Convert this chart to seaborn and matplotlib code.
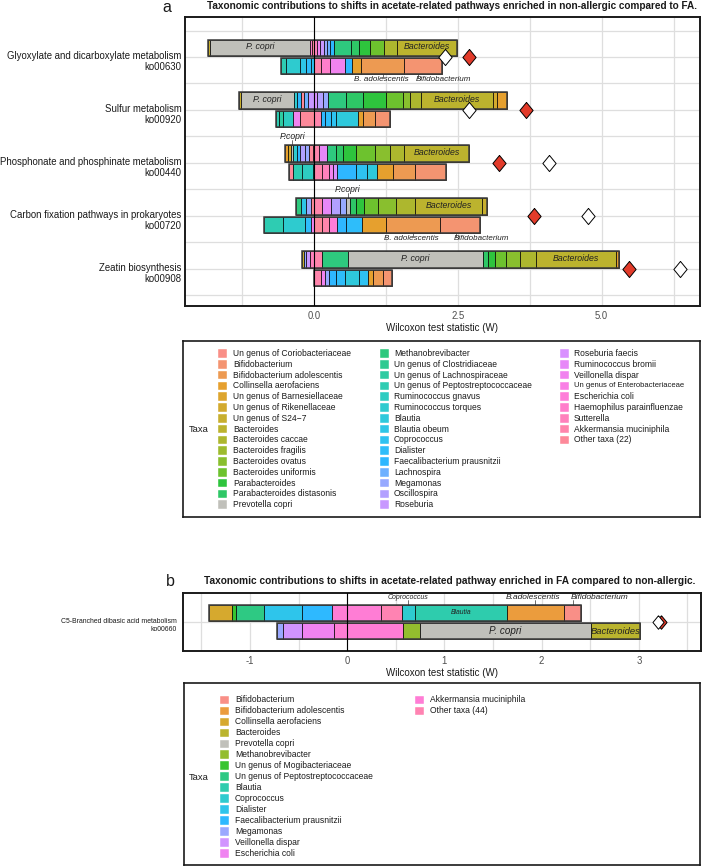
import numpy as np
import matplotlib
matplotlib.use("Agg")
import matplotlib.pyplot as plt
from matplotlib import font_manager
from matplotlib.patches import Rectangle
import seaborn as sns

# ---------------- taxa / legends ----------------
taxon_label = {
    "Corio": "Un genus of Coriobacteriaceae", "Bifido": "Bifidobacterium",
    "Badol": "Bifidobacterium adolescentis", "Colli": "Collinsella aerofaciens",
    "Barne": "Un genus of Barnesiellaceae", "Riken": "Un genus of Rikenellaceae",
    "S247": "Un genus of S24\u22127", "Bact": "Bacteroides", "Bcacc": "Bacteroides caccae",
    "Bfrag": "Bacteroides fragilis", "Bovat": "Bacteroides ovatus", "Bunif": "Bacteroides uniformis",
    "Parab": "Parabacteroides", "Pdist": "Parabacteroides distasonis", "Pcopri": "Prevotella copri",
    "Metha": "Methanobrevibacter", "Clost": "Un genus of Clostridiaceae",
    "Lachn": "Un genus of Lachnospiraceae", "Pepto": "Un genus of Peptostreptococcaceae",
    "Rgnav": "Ruminococcus gnavus", "Rtorq": "Ruminococcus torques", "Blaut": "Blautia",
    "Bobeum": "Blautia obeum", "Copro": "Coprococcus", "Dial": "Dialister",
    "Faec": "Faecalibacterium prausnitzii", "Lachsp": "Lachnospira", "Mega": "Megamonas",
    "Osci": "Oscillospira", "Rose": "Roseburia", "Rfaec": "Roseburia faecis",
    "Rbrom": "Ruminococcus bromii", "Veil": "Veillonella dispar",
    "Entero": "Un genus of Enterobacteriaceae", "Ecoli": "Escherichia coli",
    "Haem": "Haemophilus parainfluenzae", "Sutt": "Sutterella",
    "Akk": "Akkermansia muciniphila", "Other22": "Other taxa (22)",
    "Mogi": "Un genus of Mogibacteriaceae", "Other44": "Other taxa (44)",
}

legend_a = ["Corio", "Bifido", "Badol", "Colli", "Barne", "Riken", "S247", "Bact", "Bcacc",
            "Bfrag", "Bovat", "Bunif", "Parab", "Pdist", "Pcopri",
            "Metha", "Clost", "Lachn", "Pepto", "Rgnav", "Rtorq", "Blaut", "Bobeum", "Copro",
            "Dial", "Faec", "Lachsp", "Mega", "Osci", "Rose",
            "Rfaec", "Rbrom", "Veil", "Entero", "Ecoli", "Haem", "Sutt", "Akk", "Other22"]

legend_b = ["Bifido", "Badol", "Colli", "Bact", "Pcopri", "Metha", "Mogi", "Pepto", "Blaut",
            "Copro", "Dial", "Faec", "Mega", "Veil", "Ecoli", "Akk", "Other44"]

# ---------------- panel a data ----------------
pathways_a = ["Glyoxylate and dicarboxylate metabolism\nko00630",
              "Sulfur metabolism\nko00920",
              "Phosphonate and phosphinate metabolism\nko00440",
              "Carbon fixation pathways in prokaryotes\nko00720",
              "Zeatin biosynthesis\nko00908"]
w_white_a = [2.27, 2.70, 4.08, 4.77, 6.36]
w_red_a = [2.70, 3.69, 3.21, 3.83, 5.48]

# each bar: leftmost value, then taxa and their widths from left to right
ko00630_top_start = -1.84
ko00630_top_taxa = ["S247", "Pcopri", "Haem", "Other22", "Sutt", "Veil", "Rose", "Mega", "Lachsp",
                    "Faec", "Metha", "Pdist", "Parab", "Bunif", "Bcacc", "Bact"]
ko00630_top_w = [0.04, 1.74, 0.03, 0.04, 0.05, 0.05, 0.06, 0.06, 0.05, 0.07, 0.30, 0.13, 0.20,
                 0.24, 0.22, 1.04]
ko00630_bot_start = -0.57
ko00630_bot_taxa = ["Pepto", "Rtorq", "Bobeum", "Dial", "Copro", "Akk", "Haem", "Veil", "Faec",
                    "Colli", "Badol", "Bifido"]
ko00630_bot_w = [0.08, 0.24, 0.12, 0.08, 0.05, 0.12, 0.16, 0.26, 0.12, 0.16, 0.75, 0.65]

ko00920_top_start = -1.31
ko00920_top_taxa = ["S247", "Pcopri", "Rtorq", "Faec", "Other22", "Lachsp", "Rose", "Rfaec", "Osci",
                    "Mega", "Metha", "Pdist", "Parab", "Bunif", "Bovat", "Bcacc", "Bact", "Riken",
                    "Colli"]
ko00920_top_w = [0.05, 0.91, 0.06, 0.06, 0.06, 0.07, 0.10, 0.06, 0.10, 0.09, 0.30, 0.31, 0.39,
                 0.29, 0.13, 0.20, 1.24, 0.08, 0.16]
ko00920_bot_start = -0.65
ko00920_bot_taxa = ["Pepto", "Lachn", "Rgnav", "Veil", "Other22", "Akk", "Faec", "Dial", "Copro",
                    "Blaut", "Colli", "Badol", "Bifido"]
ko00920_bot_w = [0.04, 0.08, 0.16, 0.12, 0.25, 0.12, 0.08, 0.10, 0.08, 0.39, 0.08, 0.21, 0.26]

ko00440_top_start = -0.50
ko00440_top_taxa = ["Colli", "Riken", "Pcopri", "Rtorq", "Faec", "Osci", "Mega", "Other22", "Akk",
                    "Rbrom", "Metha", "Pdist", "Parab", "Bunif", "Bovat", "Bcacc", "Bact"]
ko00440_top_w = [0.05, 0.06, 0.03, 0.06, 0.06, 0.08, 0.08, 0.07, 0.10, 0.13, 0.16, 0.12, 0.24,
                 0.33, 0.26, 0.24, 1.13]
ko00440_bot_start = -0.43
ko00440_bot_taxa = ["Other22", "Pepto", "Rgnav", "Blaut", "Akk", "Sutt", "Veil", "Rfaec", "Faec",
                    "Copro", "Blaut", "Colli", "Badol", "Bifido"]
ko00440_bot_w = [0.06, 0.16, 0.19, 0.02, 0.14, 0.12, 0.08, 0.06, 0.33, 0.20, 0.16, 0.28, 0.39, 0.54]

ko00720_top_start = -0.31
ko00720_top_taxa = ["Metha", "Bobeum", "Mega", "Other22", "Akk", "Rbrom", "Osci", "Mega", "Pcopri",
                    "Pdist", "Parab", "Bunif", "Bovat", "Bcacc", "Bact", "S247"]
ko00720_top_w = [0.09, 0.09, 0.08, 0.05, 0.14, 0.16, 0.16, 0.10, 0.06, 0.11, 0.14, 0.25, 0.31,
                 0.33, 1.17, 0.08]
ko00720_bot_start = -0.86
ko00720_bot_taxa = ["Pepto", "Rtorq", "Dial", "Veil", "Other22", "Akk", "Ecoli", "Faec", "Dial",
                    "Colli", "Badol", "Bifido"]
ko00720_bot_w = [0.33, 0.38, 0.10, 0.05, 0.14, 0.13, 0.14, 0.14, 0.28, 0.43, 0.94, 0.69]

ko00908_top_start = -0.21
ko00908_top_taxa = ["S247", "Mega", "Rose", "Sutt", "Akk", "Metha", "Pcopri", "Pdist", "Parab",
                    "Bunif", "Bovat", "Bcacc", "Bact", "Colli"]
ko00908_top_w = [0.03, 0.04, 0.07, 0.07, 0.14, 0.45, 2.35, 0.08, 0.12, 0.20, 0.24, 0.28, 1.39, 0.06]
ko00908_bot_start = 0.0
ko00908_bot_taxa = ["Akk", "Veil", "Mega", "Faec", "Dial", "Blaut", "Copro", "Colli", "Badol", "Bifido"]
ko00908_bot_w = [0.12, 0.08, 0.06, 0.12, 0.16, 0.24, 0.16, 0.08, 0.18, 0.16]

# ---------------- panel b data ----------------
pathways_b = ["C5-Branched dibasic acid metabolism\nko00660"]
w_white_b = [3.20]
w_red_b = [3.23]
ko00660_top_start = -1.42
ko00660_top_taxa = ["Colli", "Mogi", "Pepto", "Dial", "Faec", "Akk", "Other44", "Copro", "Blaut",
                    "Badol", "Bifido"]
ko00660_top_w = [0.23, 0.05, 0.28, 0.39, 0.31, 0.51, 0.21, 0.14, 0.94, 0.59, 0.18]
ko00660_bot_start = -0.72
ko00660_bot_taxa = ["Mega", "Veil", "Ecoli", "Akk", "Metha", "Pcopri", "Bact"]
ko00660_bot_w = [0.06, 0.19, 0.33, 0.71, 0.18, 1.76, 0.50]


def hue_pal(n, c=100.0, l=65.0, fade=0.82):
    # ggplot2 default hue palette (polar CIELUV -> sRGB), slightly washed toward white
    Xn, Yn, Zn = 95.047, 100.0, 108.883
    un = 4 * Xn / (Xn + 15 * Yn + 3 * Zn)
    vn = 9 * Yn / (Xn + 15 * Yn + 3 * Zn)
    M = np.array([[3.2404542, -1.5371385, -0.4985314],
                  [-0.9692660, 1.8760108, 0.0415560],
                  [0.0556434, -0.2040259, 1.0572252]])
    out = []
    for h in np.linspace(15, 375, n + 1)[:n]:
        u, v = c * np.cos(np.radians(h)), c * np.sin(np.radians(h))
        Y = Yn * ((l + 16) / 116) ** 3
        up, vp = u / (13 * l) + un, v / (13 * l) + vn
        X = Y * 9 * up / (4 * vp)
        Z = Y * (12 - 3 * up - 20 * vp) / (4 * vp)
        rgb = M @ (np.array([X, Y, Z]) / 100)
        rgb = np.clip(rgb, 0, None)
        rgb = np.where(rgb <= 0.0031308, 12.92 * rgb, 1.055 * rgb ** (1 / 2.4) - 0.055)
        rgb = np.clip(rgb, 0, 1) * fade + (1 - fade)
        out.append(tuple(rgb))
    return out


def make_palette(order):
    colored = [t for t in order if t != "Pcopri"]
    pal = dict(zip(colored, hue_pal(len(colored))))
    pal["Pcopri"] = "#c0c0ba"
    return pal


pal_a = make_palette(legend_a)
pal_b = make_palette(legend_b)

# ---------------- style ----------------
sns.set_theme(style="whitegrid")
fams = {f.name for f in font_manager.fontManager.ttflist}
FONT = "Liberation Sans Narrow" if "Liberation Sans Narrow" in fams else "Liberation Sans"
SHRINK = 1.0 if FONT.endswith("Narrow") else 0.84
plt.rcParams["font.family"] = [FONT, "DejaVu Sans"]
plt.rcParams["text.color"] = "#1a1a1a"


def fs(x):
    return x * SHRINK


W, H = 707, 866
fig = plt.figure(figsize=(W / 100, H / 100), dpi=100)
fig.patch.set_facecolor("white")


def add_px_axes(left, top, right, bottom):
    return fig.add_axes([left / W, 1 - bottom / H, (right - left) / W, (bottom - top) / H])


BAR_H = 0.31
OFF = 0.175
DIAMOND = [(0, 1), (0.82, 0), (0, -1), (-0.82, 0), (0, 1)]


def stack(ax, y, start, taxa, widths, pal):
    widths = np.asarray(widths, float)
    lefts = start + np.concatenate([[0.0], np.cumsum(widths)[:-1]])
    ax.barh(np.full(len(widths), y), widths, left=lefts, height=BAR_H,
            color=[pal[t] for t in taxa], edgecolor="black", linewidth=0.5, zorder=2)
    ax.barh([y], [widths.sum()], left=[start], height=BAR_H, fill=False,
            edgecolor="#3a3a3a", linewidth=1.1, zorder=2.6)
    return lefts, widths


def seg_center(taxa, lefts, widths, code):
    idx = [i for i, t in enumerate(taxa) if t == code]
    i = max(idx, key=lambda k: widths[k])
    return lefts[i] + widths[i] / 2


def style_axes(ax, xlim, ylim, xmajor, xlabels, xminor, ymajor, yminor):
    ax.set_xlim(*xlim)
    ax.set_ylim(*ylim)
    ax.set_xticks(xmajor)
    ax.set_xticklabels(xlabels)
    ax.set_xticks(xminor, minor=True)
    ax.set_yticks(ymajor)
    ax.set_yticklabels([])
    ax.set_yticks(yminor, minor=True)
    ax.grid(True, which="both", color="#dedede", linewidth=0.9)
    ax.set_axisbelow(True)
    ax.set_facecolor("white")
    for s in ax.spines.values():
        s.set_visible(True)
        s.set_color("#1a1a1a")
        s.set_linewidth(1.4)
    ax.tick_params(axis="both", which="major", length=2.5, width=0.6, color="#333333",
                   labelsize=fs(8.2), labelcolor="#4d4d4d", pad=1.2)
    ax.tick_params(which="minor", length=0)
    ax.axvline(0, color="black", linewidth=0.8, zorder=3)
    ax.set_xlabel("Wilcoxon test statistic (W)", fontsize=fs(8.4), labelpad=1.0, color="#1a1a1a")


def in_label(ax, x, y, text, size=7.5):
    ax.text(x, y, text, style="italic", fontsize=fs(size), ha="center", va="center",
            color="#222222", zorder=5)


def out_label(ax, x_line, x_text, y_bar_edge, y_text, text, size=7.0):
    ax.plot([x_line, x_line], [y_bar_edge, y_bar_edge + 0.6 * (y_text - y_bar_edge)],
            color="#333333", linewidth=0.5, zorder=5)
    ax.text(x_text, y_text, text, style="italic", fontsize=fs(size), ha="center", va="center",
            color="#222222", zorder=5)


# ---------------- panel a ----------------
ax_a = add_px_axes(185, 17, 700, 306)
cats_a = np.arange(1, len(pathways_a) + 1)
style_axes(ax_a, (-2.24, 6.71), (5.70, 0.245), [0, 2.5, 5.0], ["0.0", "2.5", "5.0"],
           [-1.25, 1.25, 3.75, 6.25], cats_a, np.arange(0.5, 6.0, 1.0))

top_bars = [(ko00630_top_start, ko00630_top_taxa, ko00630_top_w),
            (ko00920_top_start, ko00920_top_taxa, ko00920_top_w),
            (ko00440_top_start, ko00440_top_taxa, ko00440_top_w),
            (ko00720_top_start, ko00720_top_taxa, ko00720_top_w),
            (ko00908_top_start, ko00908_top_taxa, ko00908_top_w)]
bot_bars = [(ko00630_bot_start, ko00630_bot_taxa, ko00630_bot_w),
            (ko00920_bot_start, ko00920_bot_taxa, ko00920_bot_w),
            (ko00440_bot_start, ko00440_bot_taxa, ko00440_bot_w),
            (ko00720_bot_start, ko00720_bot_taxa, ko00720_bot_w),
            (ko00908_bot_start, ko00908_bot_taxa, ko00908_bot_w)]

for y, (st, tx, wd) in zip(cats_a, top_bars):
    lefts, widths = stack(ax_a, y - OFF, st, tx, wd, pal_a)
    in_label(ax_a, seg_center(tx, lefts, widths, "Bact"), y - OFF - 0.02, "Bacteroides")
    pc = seg_center(tx, lefts, widths, "Pcopri")
    pw = max(w for t, w in zip(tx, widths) if t == "Pcopri")
    if pw > 0.5:
        in_label(ax_a, pc, y - OFF - 0.02, "P. copri")
    else:
        out_label(ax_a, pc, pc, y - OFF - BAR_H / 2, y - 0.49, "P.copri", size=7.4)

for i, (y, (st, tx, wd)) in enumerate(zip(cats_a, bot_bars)):
    lefts, widths = stack(ax_a, y + OFF, st, tx, wd, pal_a)
    if i in (0, 3):
        edge = y + OFF + BAR_H / 2
        bc = seg_center(tx, lefts, widths, "Badol")
        fc = seg_center(tx, lefts, widths, "Bifido")
        out_label(ax_a, bc, bc - 0.03, edge, y + 0.43, "B. adolescentis", size=6.9)
        out_label(ax_a, fc - 0.08, fc + 0.36, edge, y + 0.43, "Bifidobacterium", size=6.9)

sns.scatterplot(x=w_red_a, y=cats_a, marker=DIAMOND, s=135, color="#e23b2a", edgecolor="black",
                linewidth=0.7, ax=ax_a, zorder=6, legend=False)
sns.scatterplot(x=w_white_a, y=cats_a, marker=DIAMOND, s=135, color="white", edgecolor="black",
                linewidth=0.7, ax=ax_a, zorder=6, legend=False)
ax_a.set_ylabel("")

trans_a = ax_a.get_yaxis_transform()
for y, lab in zip(cats_a, pathways_a):
    ax_a.text(-0.007, y + 0.085, lab, transform=trans_a, ha="right", va="center",
              fontsize=fs(8.3), linespacing=1.12, color="#1a1a1a")

fig.text(167 / W, 1 - 7 / H, "a", fontsize=11.5, ha="center", va="center")
fig.text(452 / W, 1 - 6 / H,
         "Taxonomic contributions to shifts in acetate-related pathways enriched in non-allergic compared to FA.",
         fontsize=fs(8.55), weight="bold", ha="center", va="center")

# ---------------- panel b ----------------
ax_b = add_px_axes(183, 593, 701, 651)
cats_b = np.arange(1, len(pathways_b) + 1)
style_axes(ax_b, (-1.69, 3.64), (1.547, 0.453), [-1, 0, 1, 2, 3], ["-1", "0", "1", "2", "3"],
           [-1.5, -0.5, 0.5, 1.5, 2.5, 3.5], cats_b, [])

yb = cats_b[0]
lefts, widths = stack(ax_b, yb - OFF, ko00660_top_start, ko00660_top_taxa, ko00660_top_w, pal_b)
edge_top = yb - OFF - BAR_H / 2
cc = seg_center(ko00660_top_taxa, lefts, widths, "Copro")
out_label(ax_b, cc, cc, edge_top, yb - 0.46, "Coprococcus", size=6.0)
bc = seg_center(ko00660_top_taxa, lefts, widths, "Badol")
out_label(ax_b, bc, bc - 0.02, edge_top, yb - 0.46, "B.adolescentis", size=7.2)
fc = seg_center(ko00660_top_taxa, lefts, widths, "Bifido")
out_label(ax_b, fc, fc + 0.28, edge_top, yb - 0.46, "Bifidobacterium", size=7.2)
in_label(ax_b, seg_center(ko00660_top_taxa, lefts, widths, "Blaut"), yb - OFF, "Blautia", size=5.8)

lefts, widths = stack(ax_b, yb + OFF, ko00660_bot_start, ko00660_bot_taxa, ko00660_bot_w, pal_b)
in_label(ax_b, seg_center(ko00660_bot_taxa, lefts, widths, "Pcopri"), yb + OFF, "P. copri", size=8.5)
in_label(ax_b, seg_center(ko00660_bot_taxa, lefts, widths, "Bact"), yb + OFF, "Bacteroides", size=8.0)

sns.scatterplot(x=w_red_b, y=cats_b, marker=DIAMOND, s=95, color="#e23b2a", edgecolor="black",
                linewidth=0.7, ax=ax_b, zorder=6, legend=False)
sns.scatterplot(x=w_white_b, y=cats_b, marker=DIAMOND, s=95, color="white", edgecolor="black",
                linewidth=0.7, ax=ax_b, zorder=6, legend=False)
ax_b.set_ylabel("")

trans_b = ax_b.get_yaxis_transform()
for y, lab in zip(cats_b, pathways_b):
    ax_b.text(-0.012, y + 0.066, lab, transform=trans_b, ha="right", va="center",
              fontsize=fs(5.9), linespacing=1.3, color="#1a1a1a")

fig.text(170 / W, 1 - 581 / H, "b", fontsize=11.5, ha="center", va="center")
fig.text(450 / W, 1 - 581 / H,
         "Taxonomic contributions to shifts in acetate-related pathway enriched in FA compared to non-allergic.",
         fontsize=fs(8.7), weight="bold", ha="center", va="center")


# ---------------- legends ----------------
def draw_legend(ax, order, pal, w_px, h_px, key_x, text_x, rows, first_y, step, taxa_xy):
    ax.set_xlim(0, w_px)
    ax.set_ylim(h_px, 0)
    ax.set_xticks([])
    ax.set_yticks([])
    ax.grid(False)
    ax.set_facecolor("white")
    for s in ax.spines.values():
        s.set_visible(True)
        s.set_color("#1a1a1a")
        s.set_linewidth(1.2)
    for i, code in enumerate(order):
        col, row = divmod(i, rows)
        y = first_y + row * step
        ax.add_patch(Rectangle((key_x[col], y - 4.3), 8.6, 8.6, facecolor=pal[code],
                               edgecolor="white", linewidth=0.3))
        size = 6.6 if code == "Entero" else 7.3
        ax.text(text_x[col], y, taxon_label[code], ha="left", va="center", fontsize=fs(size),
                color="#1a1a1a")
    ax.text(taxa_xy[0], taxa_xy[1], "Taxa", ha="left", va="center", fontsize=fs(8.0),
            color="#1a1a1a")


leg_a = add_px_axes(183, 341, 700, 517)
draw_legend(leg_a, legend_a, pal_a, 517, 176, [35, 197, 377], [50, 211, 391], 15, 12.5, 10.8,
            (6, 88))

leg_b = add_px_axes(184, 683, 700, 865)
draw_legend(leg_b, legend_b, pal_b, 516, 182, [36, 231], [51, 246], 15, 17, 10.95, (5, 94))

fig.savefig("out.png", dpi=100)
